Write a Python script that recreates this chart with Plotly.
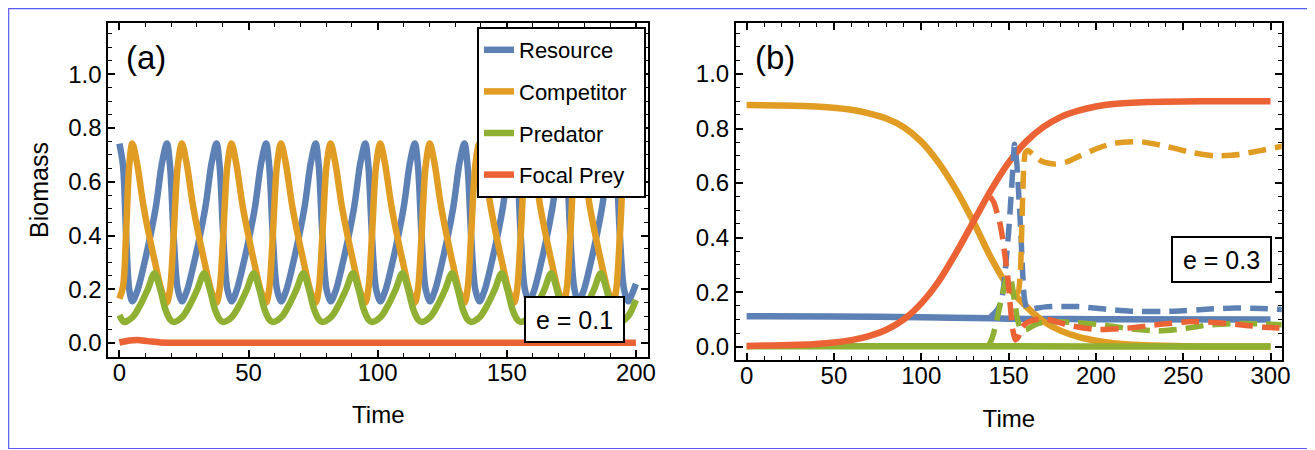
import plotly.graph_objects as go

# ---------------- Data ----------------
# Panel (a): e = 0.1 -- shared time grid for Resource and Competitor
A_TIME = [0, 1.4, 2.6, 3.8, 5.0,
          6.8, 9.5, 14.0, 16.5, 18.4, 19.6, 21.0, 22.6, 24.2,
          26.0, 28.7, 33.2, 35.7, 37.6, 38.8, 40.2, 41.8, 43.4,
          45.2, 47.9, 52.4, 54.9, 56.8, 58.0, 59.4, 61.0, 62.6,
          64.4, 67.1, 71.6, 74.1, 76.0, 77.2, 78.6, 80.2, 81.8,
          83.6, 86.3, 90.8, 93.3, 95.2, 96.4, 97.8, 99.4, 101.0,
          102.8, 105.5, 110.0, 112.5, 114.4, 115.6, 117.0, 118.6, 120.2,
          122.0, 124.7, 129.2, 131.7, 133.6, 134.8, 136.2, 137.8, 139.4,
          141.2, 143.9, 148.4, 150.9, 152.8, 154.0, 155.4, 157.0, 158.6,
          160.4, 163.1, 167.6, 170.1, 172.0, 173.2, 174.6, 176.2, 177.8,
          179.6, 182.3, 186.8, 189.3, 191.2, 192.4, 193.8, 195.4, 197.0,
          198.6, 200.0]

A_RESOURCE = [0.742, 0.66, 0.40, 0.20, 0.155,
              0.19, 0.29, 0.50, 0.67, 0.742, 0.66, 0.40, 0.20, 0.155,
              0.19, 0.29, 0.50, 0.67, 0.742, 0.66, 0.40, 0.20, 0.155,
              0.19, 0.29, 0.50, 0.67, 0.742, 0.66, 0.40, 0.20, 0.155,
              0.19, 0.29, 0.50, 0.67, 0.742, 0.66, 0.40, 0.20, 0.155,
              0.19, 0.29, 0.50, 0.67, 0.742, 0.66, 0.40, 0.20, 0.155,
              0.19, 0.29, 0.50, 0.67, 0.742, 0.66, 0.40, 0.20, 0.155,
              0.19, 0.29, 0.50, 0.67, 0.742, 0.66, 0.40, 0.20, 0.155,
              0.19, 0.29, 0.50, 0.67, 0.742, 0.66, 0.40, 0.20, 0.155,
              0.19, 0.29, 0.50, 0.67, 0.742, 0.66, 0.40, 0.20, 0.155,
              0.19, 0.29, 0.50, 0.67, 0.742, 0.66, 0.40, 0.20, 0.155,
              0.185, 0.22]

A_COMPETITOR = [0.165, 0.21, 0.41, 0.66, 0.742,
                0.67, 0.50, 0.29, 0.19, 0.15, 0.20, 0.40, 0.66, 0.742,
                0.67, 0.50, 0.29, 0.19, 0.15, 0.20, 0.40, 0.66, 0.742,
                0.67, 0.50, 0.29, 0.19, 0.15, 0.20, 0.40, 0.66, 0.742,
                0.67, 0.50, 0.29, 0.19, 0.15, 0.20, 0.40, 0.66, 0.742,
                0.67, 0.50, 0.29, 0.19, 0.15, 0.20, 0.40, 0.66, 0.742,
                0.67, 0.50, 0.29, 0.19, 0.15, 0.20, 0.40, 0.66, 0.742,
                0.67, 0.50, 0.29, 0.19, 0.15, 0.20, 0.40, 0.66, 0.742,
                0.67, 0.50, 0.29, 0.19, 0.15, 0.20, 0.40, 0.66, 0.742,
                0.67, 0.50, 0.29, 0.19, 0.15, 0.20, 0.40, 0.66, 0.742,
                0.67, 0.50, 0.29, 0.19, 0.15, 0.20, 0.40, 0.66, 0.742,
                0.68, 0.60]

A_PRED_TIME = [0, 1.0, 1.8,
               5.0, 8.0, 11.0, 13.6, 15.8, 17.8, 19.6, 21.0,
               24.2, 27.2, 30.2, 32.8, 35.0, 37.0, 38.8, 40.2,
               43.4, 46.4, 49.4, 52.0, 54.2, 56.2, 58.0, 59.4,
               62.6, 65.6, 68.6, 71.2, 73.4, 75.4, 77.2, 78.6,
               81.8, 84.8, 87.8, 90.4, 92.6, 94.6, 96.4, 97.8,
               101.0, 104.0, 107.0, 109.6, 111.8, 113.8, 115.6, 117.0,
               120.2, 123.2, 126.2, 128.8, 131.0, 133.0, 134.8, 136.2,
               139.4, 142.4, 145.4, 148.0, 150.2, 152.2, 154.0, 155.4,
               158.6, 161.6, 164.6, 167.2, 169.4, 171.4, 173.2, 174.6,
               177.8, 180.8, 183.8, 186.4, 188.6, 190.6, 192.4, 193.8,
               197.0, 200.0]
A_PREDATOR = [0.104, 0.086, 0.078,
              0.095, 0.14, 0.20, 0.26, 0.20, 0.125, 0.088, 0.078,
              0.095, 0.14, 0.20, 0.26, 0.20, 0.125, 0.088, 0.078,
              0.095, 0.14, 0.20, 0.26, 0.20, 0.125, 0.088, 0.078,
              0.095, 0.14, 0.20, 0.26, 0.20, 0.125, 0.088, 0.078,
              0.095, 0.14, 0.20, 0.26, 0.20, 0.125, 0.088, 0.078,
              0.095, 0.14, 0.20, 0.26, 0.20, 0.125, 0.088, 0.078,
              0.095, 0.14, 0.20, 0.26, 0.20, 0.125, 0.088, 0.078,
              0.095, 0.14, 0.20, 0.26, 0.20, 0.125, 0.088, 0.078,
              0.095, 0.14, 0.20, 0.26, 0.20, 0.125, 0.088, 0.078,
              0.095, 0.14, 0.20, 0.26, 0.20, 0.125, 0.088, 0.078,
              0.10, 0.16]

A_PREY_TIME = [0, 4, 7, 11, 16, 30, 100, 200]
A_PREY = [0.002, 0.009, 0.011, 0.007, 0.002, 0.001, 0.001, 0.001]

# Panel (b): e = 0.3 -- solid runs
B_RES_TIME = [0, 50, 100, 140, 160, 200, 300]
B_RESOURCE = [0.112, 0.111, 0.108, 0.104, 0.102, 0.101, 0.100]
B_COMP_TIME = [0, 20, 40, 60, 70, 80, 90, 100, 110, 120, 130, 140, 150, 160,
               170, 180, 190, 200, 210, 225, 250, 300]
B_COMPETITOR = [0.886, 0.885, 0.881, 0.869, 0.856, 0.837, 0.805, 0.752, 0.674,
                0.574, 0.456, 0.325, 0.218, 0.148, 0.093, 0.058, 0.036, 0.022,
                0.013, 0.006, 0.002, 0.001]
B_PRED_TIME = [0, 100, 200, 300]
B_PREDATOR = [0.002, 0.002, 0.001, 0.001]
B_PREY_TIME = [0, 10, 20, 30, 40, 50, 60, 70, 80, 90, 100, 110, 120, 130, 140,
               150, 160, 170, 180, 190, 200, 210, 230, 260, 300]
B_PREY = [0.003, 0.004, 0.005, 0.007, 0.01, 0.015, 0.024, 0.039, 0.062, 0.1,
          0.159, 0.24, 0.345, 0.46, 0.575, 0.675, 0.752, 0.806, 0.843, 0.866,
          0.881, 0.89, 0.897, 0.9, 0.9]

# Panel (b): dashed runs
BD_RES_TIME = [139, 141, 143.5, 145.5, 146.8, 148.4, 150.0, 151.2, 152.3, 153.4,
               154.6, 155.8, 157.0, 158.0, 159.0, 160.5, 163, 171, 190, 205,
               220, 245, 265, 280, 295, 308]
BD_RESOURCE = [0.105, 0.118, 0.135, 0.16, 0.2, 0.3, 0.42, 0.53, 0.64, 0.742,
               0.68, 0.56, 0.42, 0.28, 0.18, 0.14, 0.138, 0.146, 0.147, 0.138,
               0.13, 0.13, 0.138, 0.142, 0.14, 0.136]
BD_COMP_TIME = [153.5, 155.5, 156.8, 157.5, 158.1, 158.7, 159.5, 161, 164, 169,
                176, 183, 190, 200, 210, 225, 240, 255, 268, 282, 295, 308]
BD_COMPETITOR = [0.19, 0.2, 0.28, 0.42, 0.56, 0.66, 0.71, 0.72, 0.705, 0.68,
                 0.67, 0.677, 0.697, 0.725, 0.746, 0.752, 0.735, 0.712, 0.70,
                 0.705, 0.72, 0.737]
BD_PRED_TIME = [138.5, 140.5, 142.9, 145.7, 148.3, 150.2, 151.6, 153.3, 155.2,
                157.1, 160, 166, 173, 185, 204, 220, 236, 250, 265, 285, 308]
BD_PREDATOR = [0.003, 0.03, 0.086, 0.171, 0.24, 0.262, 0.24, 0.171, 0.098,
               0.062, 0.063, 0.083, 0.092, 0.09, 0.08, 0.065, 0.058, 0.066,
               0.08, 0.085, 0.08]
BD_PREY_TIME = [139.5, 141.5, 143, 144.8, 146.5, 148, 149.5, 150.7, 152.2, 153.8,
                155.5, 157.5, 161, 166, 172, 185, 200, 218, 237, 255, 270, 286,
                300, 308]
BD_PREY = [0.55, 0.53, 0.5, 0.46, 0.4, 0.33, 0.257, 0.17, 0.07, 0.025, 0.035,
           0.07, 0.09, 0.1, 0.1, 0.078, 0.063, 0.068, 0.082, 0.092, 0.088,
           0.078, 0.07, 0.068]

SERIES_NAMES = ["Resource", "Competitor", "Predator", "Focal Prey"]
Y_TICKS = [0.0, 0.2, 0.4, 0.6, 0.8, 1.0]
Y_TICK_TEXT = ["0.0", "0.2", "0.4", "0.6", "0.8", "1.0"]
XA_TICKS = [0, 50, 100, 150, 200]
XB_TICKS = [0, 50, 100, 150, 200, 250, 300]

# ---------------- Styling / layout ----------------
COLORS = ["#5E81B5", "#E19C24", "#8FB032", "#EB6235"]
FONT = "Liberation Sans, Arial, Helvetica, sans-serif"
OX, OY = 8, 8              # page body margin of the browser
W, H = 1315 - OX, 450 - OY  # figure size that fills the window
LW = 6.5
DW = 5.5
LEGEND_PAD = "\u00a0\u00a0"  # extra right padding inside the legend box


def px(X):
    return (X - OX) / W


def py(Y):
    return 1 - (Y - OY) / H


fig = go.Figure()

a_data = [(A_TIME, A_RESOURCE), (A_TIME, A_COMPETITOR),
          (A_PRED_TIME, A_PREDATOR), (A_PREY_TIME, A_PREY)]
for i, (t, v) in enumerate(a_data):
    fig.add_trace(go.Scatter(
        x=t, y=v, mode="lines", name=SERIES_NAMES[i] + LEGEND_PAD,
        line=dict(color=COLORS[i], width=LW, shape="spline", smoothing=0.9),
        legendgroup=SERIES_NAMES[i], showlegend=True,
        xaxis="x", yaxis="y"))

b_solid = [(B_RES_TIME, B_RESOURCE), (B_COMP_TIME, B_COMPETITOR),
           (B_PRED_TIME, B_PREDATOR), (B_PREY_TIME, B_PREY)]
for i, (t, v) in enumerate(b_solid):
    fig.add_trace(go.Scatter(
        x=t, y=v, mode="lines", name=SERIES_NAMES[i],
        line=dict(color=COLORS[i], width=LW, shape="spline", smoothing=0.8),
        showlegend=False, xaxis="x2", yaxis="y2"))

b_dash = [(BD_RES_TIME, BD_RESOURCE), (BD_COMP_TIME, BD_COMPETITOR),
          (BD_PRED_TIME, BD_PREDATOR), (BD_PREY_TIME, BD_PREY)]
for i, (t, v) in enumerate(b_dash):
    fig.add_trace(go.Scatter(
        x=t, y=v, mode="lines", name=SERIES_NAMES[i] + " (dashed)",
        line=dict(color=COLORS[i], width=DW, dash="18px,9px",
                  shape="spline", smoothing=0.6),
        showlegend=False, xaxis="x2", yaxis="y2"))


def ax_common(minor_dtick):
    return dict(
        showline=True, linecolor="black", linewidth=2, mirror="ticks",
        ticks="inside", ticklen=7, tickwidth=1.5, tickcolor="black",
        showgrid=False, zeroline=False, automargin=False,
        tickfont=dict(family=FONT, size=24, color="black"),
        minor=dict(ticks="inside", ticklen=4, tickwidth=1.2,
                   tickcolor="black", dtick=minor_dtick, tick0=0,
                   showgrid=False),
    )


xa = ax_common(10)
xa.update(domain=[px(108.3), px(648.3)], range=[-4.3, 204.8],
          tickvals=XA_TICKS, anchor="y", ticklabelstandoff=-7,
          title=dict(text="Time", font=dict(family=FONT, size=24, color="black"),
                     standoff=22))
ya = ax_common(0.05)
ya.update(domain=[py(356.7), py(23.3)], range=[-0.0509, 1.1896],
          tickvals=Y_TICKS, ticktext=Y_TICK_TEXT, anchor="x",
          title=dict(text="Biomass", font=dict(family=FONT, size=25, color="black"),
                     standoff=12))
xb = ax_common(10)
xb.update(domain=[px(736.0), px(1281.7)], range=[-6.1, 306.4],
          tickvals=XB_TICKS, anchor="y2", ticklabelstandoff=-7,
          title=dict(text="Time", font=dict(family=FONT, size=24, color="black"),
                     standoff=22))
yb = ax_common(0.05)
yb.update(domain=[py(360.0), py(23.3)], range=[-0.0488, 1.186],
          tickvals=Y_TICKS, ticktext=Y_TICK_TEXT, anchor="x2")

annotations = [
    dict(text="(a)", x=px(146), y=py(57), xref="paper", yref="paper",
         xanchor="center", yanchor="middle",
         showarrow=False, font=dict(family=FONT, size=33, color="black")),
    dict(text="(b)", x=px(775), y=py(57), xref="paper", yref="paper",
         xanchor="center", yanchor="middle",
         showarrow=False, font=dict(family=FONT, size=33, color="black")),
    dict(text="e = 0.1", x=px(574.5), y=py(319.5), xref="paper", yref="paper",
         xanchor="center", yanchor="middle",
         showarrow=False, font=dict(family=FONT, size=25, color="black"),
         bgcolor="white", bordercolor="black", borderwidth=2, borderpad=2,
         width=93, height=39),
    dict(text="e = 0.3", x=px(1221.5), y=py(259.5), xref="paper", yref="paper",
         xanchor="center", yanchor="middle",
         showarrow=False, font=dict(family=FONT, size=25, color="black"),
         bgcolor="white", bordercolor="black", borderwidth=2, borderpad=2,
         width=93, height=39),
]

shapes = [
    dict(type="rect", xref="paper", yref="paper", x0=px(8.7), x1=px(1311.5),
         y0=py(448.5), y1=py(8.7), line=dict(color="#5a5aee", width=1.2),
         fillcolor="rgba(0,0,0,0)", layer="above"),
]

fig.update_layout(
    width=W, height=H, template="none",
    margin=dict(l=0, r=0, t=0, b=0),
    paper_bgcolor="white", plot_bgcolor="white",
    font=dict(family=FONT, color="black"),
    xaxis=xa, yaxis=ya, xaxis2=xb, yaxis2=yb,
    legend=dict(x=px(646), y=py(27), xanchor="right", yanchor="top",
                bgcolor="white", bordercolor="black", borderwidth=2,
                font=dict(family=FONT, size=22, color="black"),
                tracegroupgap=10, itemwidth=30, traceorder="grouped"),
    annotations=annotations, shapes=shapes,
)

fig.write_html("out.html")
